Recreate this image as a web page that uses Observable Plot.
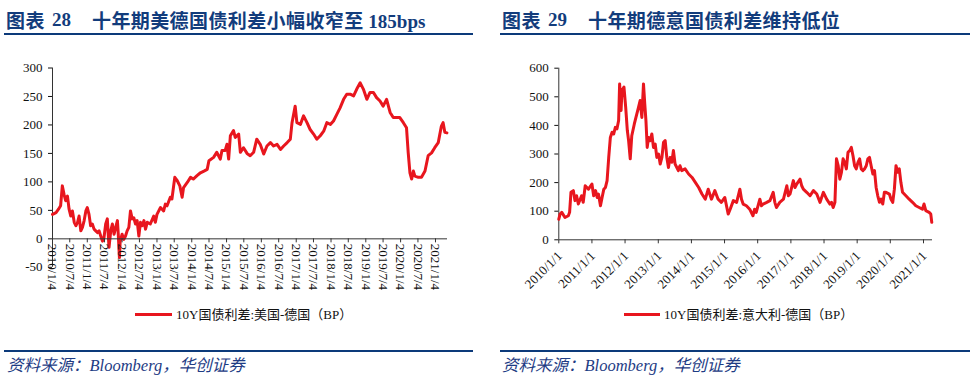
<!DOCTYPE html>
<html>
<head>
<meta charset="utf-8">
<script src="https://cdn.jsdelivr.net/npm/d3@7"></script>
<script src="https://cdn.jsdelivr.net/npm/@observablehq/plot@0.6"></script>
<style>
  html, body { margin: 0; padding: 0; background: #fff; }
  body { width: 976px; height: 392px; position: relative; overflow: hidden; }
  .abs { position: absolute; white-space: nowrap; }
  .title { font-family: "Liberation Serif", "Noto Sans CJK SC", serif; font-weight: 700; font-size: 19px; line-height: 19px; color: #123c7c; }
  .title .cjk { font-family: "Noto Sans CJK SC", sans-serif; letter-spacing: 0.4px; }
  .rule { position: absolute; height: 2px; background: #0c3a7a; }
  .legend { font-family: "Liberation Serif", "Noto Sans CJK SC", serif; font-size: 13px; line-height: 13px; color: #111; }
  .swatch { position: absolute; height: 3px; background: #e8161e; }
  .source { font-family: "Liberation Serif", "Noto Sans CJK SC", serif; font-style: italic; font-size: 16.5px; line-height: 16px; color: #1e3c84; }
  .chart { position: absolute; top: 50px; }
</style>
</head>
<body>
<div class="abs title cjk" style="left:6px; top:10px;"><span class="cjk">图表</span></div>
<div class="abs title" style="left:52px; top:10px;">28</div>
<div class="abs title" style="left:92px; top:10px;"><span class="cjk">十年期美德国债利差小幅收窄至</span> 185bps</div>
<div class="rule" style="left:4px; width:469px; top:33px;"></div>

<div class="abs title cjk" style="left:502px; top:10px;"><span class="cjk">图表</span></div>
<div class="abs title" style="left:548px; top:10px;">29</div>
<div class="abs title" style="left:588px; top:10px;"><span class="cjk">十年期德意国债利差维持低位</span></div>
<div class="rule" style="left:500px; width:470px; top:33px;"></div>

<div id="chartUS" class="chart" style="left:0px;"></div>
<div id="chartIT" class="chart" style="left:488px;"></div>

<div class="swatch" style="left:135px; width:37px; top:313px;"></div>
<div class="abs legend" style="left:176px; top:308px;">10Y国债利差:美国-德国（BP）</div>
<div class="swatch" style="left:624px; width:36px; top:313px;"></div>
<div class="abs legend" style="left:664px; top:308px;">10Y国债利差:意大利-德国（BP）</div>

<div class="rule" style="left:4px; width:469px; top:350px;"></div>
<div class="rule" style="left:500px; width:470px; top:350px;"></div>
<div class="abs source" style="left:7px; top:358px;">资料来源：Bloomberg，华创证券</div>
<div class="abs source" style="left:502px; top:358px;">资料来源：Bloomberg，华创证券</div>

<script>
// ---------- Data: US - Germany 10Y spread (bp) ----------
const usDates = ["2010-01-04","2010-02-10","2010-03-08","2010-03-30","2010-04-17","2010-05-05","2010-05-22","2010-06-10","2010-06-27","2010-07-15","2010-08-01","2010-08-20","2010-09-06","2010-09-24","2010-10-10","2010-10-28","2010-11-14","2010-12-02","2010-12-20",
"2011-01-04","2011-01-22","2011-02-08","2011-02-26","2011-03-16","2011-04-03","2011-04-20","2011-05-08","2011-05-25","2011-06-12","2011-06-28","2011-07-16","2011-08-02","2011-08-20","2011-09-07","2011-09-24","2011-10-12","2011-10-29","2011-11-16","2011-11-25","2011-12-07","2011-12-15",
"2012-01-04","2012-01-22","2012-02-09","2012-02-26","2012-03-15","2012-04-01","2012-04-19","2012-05-06","2012-05-24","2012-06-10","2012-06-28","2012-07-15","2012-08-02","2012-08-20","2012-09-06","2012-09-24","2012-10-26","2012-12-01","2012-12-18",
"2013-01-04","2013-02-10","2013-03-15","2013-04-02","2013-04-20","2013-05-24","2013-06-10","2013-06-28","2013-07-10","2013-08-05","2013-09-01","2013-09-25","2013-10-10","2013-11-18","2013-12-22",
"2014-01-20","2014-02-28","2014-04-05","2014-05-12","2014-06-15","2014-07-03","2014-08-21","2014-09-23","2014-10-30","2014-11-17","2014-12-20",
"2015-01-08","2015-01-26","2015-02-13","2015-03-18","2015-04-05","2015-04-23","2015-05-11","2015-05-29","2015-07-01","2015-08-07","2015-09-09","2015-10-15","2015-11-17","2015-12-23",
"2016-01-29","2016-03-03","2016-04-08","2016-05-11","2016-06-17","2016-07-23","2016-08-25","2016-10-01","2016-11-03","2016-11-21","2016-12-24",
"2017-01-11","2017-02-17","2017-03-22","2017-04-27","2017-05-30","2017-07-05","2017-08-08","2017-09-13","2017-10-19","2017-11-21","2017-12-28",
"2018-01-30","2018-03-07","2018-04-09","2018-05-16","2018-06-18","2018-07-24","2018-08-29","2018-10-01","2018-11-06","2018-12-09",
"2019-01-15","2019-02-17","2019-03-25","2019-04-27","2019-06-02","2019-07-05","2019-08-10","2019-09-16","2019-10-19","2019-11-24","2019-12-27",
"2020-02-02","2020-03-06","2020-03-24","2020-04-11","2020-04-29","2020-05-17","2020-06-02","2020-07-08","2020-08-10","2020-09-16","2020-10-19","2020-11-24","2020-12-27",
"2021-02-02","2021-03-07","2021-03-25","2021-04-12","2021-05-04"];
const usValues = [43,46,52,58,93,78,67,75,52,40,49,29,23,29,40,14,20,32,49,
55,43,23,26,17,14,11,14,5,-4,2,26,35,-15,14,26,8,20,32,8,-33,-4,
8,-1,5,14,20,49,35,37,26,32,5,29,23,32,17,29,26,40,29,
43,55,49,61,58,73,70,93,108,102,93,73,90,99,108,
105,111,116,119,122,137,143,152,140,155,155,
166,140,181,190,178,181,184,152,160,150,146,152,175,166,
149,163,169,163,166,157,163,169,175,204,233,
204,201,216,204,192,184,175,181,189,204,201,
207,219,230,245,254,254,251,263,274,263,
245,257,257,248,242,233,245,222,213,213,213,
204,195,151,116,105,119,110,108,108,119,146,151,160,
169,198,204,187,186];

// ---------- Data: Italy - Germany 10Y spread (bp) ----------
const itDates = ["2010-01-01","2010-01-15","2010-02-03","2010-03-10","2010-04-16","2010-04-30","2010-05-15","2010-06-10","2010-06-28","2010-07-16","2010-08-04","2010-09-09","2010-09-27","2010-10-19","2010-11-24",
"2011-01-01","2011-01-20","2011-02-10","2011-02-28","2011-03-14","2011-04-05","2011-04-23","2011-05-12","2011-05-30","2011-06-17","2011-07-05","2011-07-23","2011-08-11","2011-08-29","2011-09-16","2011-10-04","2011-10-22","2011-11-02","2011-11-18","2011-11-28","2011-12-20",
"2012-01-08","2012-01-26","2012-02-09","2012-02-27","2012-03-15","2012-04-12","2012-04-30","2012-05-28","2012-06-15","2012-07-04","2012-07-22","2012-08-05","2012-08-18","2012-09-01","2012-09-16","2012-10-04","2012-10-22","2012-11-09","2012-11-28","2012-12-16",
"2013-01-04","2013-01-22","2013-02-10","2013-02-28","2013-03-18","2013-04-05","2013-04-23","2013-05-11","2013-05-30","2013-06-17","2013-07-05","2013-08-10","2013-08-28","2013-09-16","2013-10-23","2013-12-01",
"2014-01-08","2014-02-13","2014-03-22","2014-04-27","2014-06-03","2014-07-05","2014-08-10","2014-09-16","2014-10-22","2014-11-27",
"2015-01-04","2015-02-10","2015-03-04","2015-04-08","2015-05-14","2015-06-19","2015-07-07","2015-07-25","2015-08-30","2015-10-05","2015-11-10","2015-11-28","2015-12-16",
"2016-01-25","2016-02-12","2016-03-01","2016-04-10","2016-05-15","2016-06-20","2016-07-08","2016-07-26","2016-08-31","2016-10-11","2016-11-17","2016-12-04","2016-12-22",
"2017-01-28","2017-02-15","2017-03-06","2017-04-12","2017-04-30","2017-05-18","2017-06-24","2017-07-31","2017-09-06","2017-10-13","2017-11-18","2017-12-25",
"2018-01-30","2018-03-07","2018-03-25","2018-04-12","2018-05-01","2018-05-18","2018-06-06","2018-06-24","2018-07-12","2018-07-30","2018-08-17","2018-09-04","2018-09-22","2018-10-11","2018-10-29","2018-11-16","2018-12-04","2018-12-22",
"2019-01-10","2019-01-28","2019-02-15","2019-03-06","2019-03-24","2019-04-11","2019-04-29","2019-05-17","2019-06-04","2019-06-23","2019-07-11","2019-07-29","2019-08-16","2019-09-04","2019-09-22","2019-10-10","2019-10-28","2019-11-15","2019-12-22",
"2020-01-09","2020-01-28","2020-02-15","2020-03-04","2020-03-22","2020-04-09","2020-04-27","2020-05-15","2020-06-21","2020-07-27","2020-09-02","2020-10-08","2020-11-14","2020-12-20",
"2021-01-07","2021-01-26","2021-03-04","2021-03-22","2021-04-02"];
const itValues = [72,90,96,78,84,96,166,172,137,154,125,154,131,189,177,
195,154,172,148,160,119,148,177,183,207,288,358,376,370,393,388,417,545,452,522,534,
463,382,347,283,364,405,428,463,487,428,545,475,417,323,358,347,370,323,335,288,
300,265,288,341,347,288,253,288,271,312,265,242,259,242,248,230,
218,201,183,160,142,177,142,172,142,131,
148,90,107,137,131,177,142,125,119,107,84,107,96,
142,119,125,131,137,166,131,113,131,142,189,154,160,
207,183,195,212,189,177,166,154,172,160,131,166,
142,125,131,113,131,283,259,212,236,283,271,248,306,312,323,294,259,248,
271,283,248,242,248,259,283,288,259,230,242,183,154,131,142,125,166,166,160,
142,131,177,259,236,248,200,166,154,142,131,119,113,107,
125,102,96,90,61];

// ---------- Axis ticks ----------
const usXTickLabels = ["2010/1/4","2010/7/4","2011/1/4","2011/7/4","2012/1/4","2012/7/4","2013/1/4","2013/7/4","2014/1/4","2014/7/4","2015/1/4","2015/7/4","2016/1/4","2016/7/4","2017/1/4","2017/7/4","2018/1/4","2018/7/4","2019/1/4","2019/7/4","2020/1/4","2020/7/4","2021/1/4"];
const itXTickLabels = ["2010/1/1","2011/1/1","2012/1/1","2013/1/1","2014/1/1","2015/1/1","2016/1/1","2017/1/1","2018/1/1","2019/1/1","2020/1/1","2021/1/1"];
const usYTicks = [-50, 0, 50, 100, 150, 200, 250, 300];
const itYTicks = [0, 100, 200, 300, 400, 500, 600];
const usXDomain = ["2010-01-04", "2021-05-10"];
const itXDomain = ["2010-01-01", "2021-04-10"];

// ---------- Build ----------
const parseISO = s => new Date(s + "T00:00:00Z");
const parseLabel = s => { const [y, m, d] = s.split("/").map(Number); return new Date(Date.UTC(y, m - 1, d)); };
const usData = usDates.map((d, i) => ({date: parseISO(d), value: usValues[i]}));
const itData = itDates.map((d, i) => ({date: parseISO(d), value: itValues[i]}));
const usTicks = usXTickLabels.map(l => ({date: parseLabel(l), label: l}));
const itTicks = itXTickLabels.map(l => ({date: parseLabel(l), label: l}));

const RED = "#e8161e";
const AXIS = "#333";
const baseStyle = {fontFamily: "'Liberation Serif', 'Times New Roman', serif", fontSize: "13px", color: "#111", background: "transparent", overflow: "visible"};

const us = Plot.plot({
  width: 480, height: 250,
  marginLeft: 52, marginRight: 33, marginTop: 17.5, marginBottom: 33.2,
  style: baseStyle,
  x: {type: "utc", domain: usXDomain.map(parseISO), axis: null},
  y: {domain: [-50, 300], ticks: usYTicks, tickSize: 4, tickPadding: 6, label: null, tickFormat: d => String(d)},
  marks: [
    Plot.ruleX([parseISO(usXDomain[0])], {stroke: AXIS, strokeWidth: 1}),
    Plot.line(usData, {x: "date", y: "value", stroke: RED, strokeWidth: 3, strokeLinejoin: "round"}),
    Plot.ruleY([0], {stroke: AXIS, strokeWidth: 1}),
    Plot.ruleX(usTicks, {x: "date", y1: 0, y2: 0, insetBottom: -4, stroke: AXIS}),
    Plot.text(usTicks, {x: "date", y: 0, text: "label", rotate: 90, textAnchor: "start", lineAnchor: "middle", dy: 5, fontSize: 13, fill: "#111"})
  ]
});
document.getElementById("chartUS").appendChild(us);

const it = Plot.plot({
  width: 480, height: 250,
  marginLeft: 70.3, marginRight: 36, marginTop: 17.7, marginBottom: 60.7,
  style: baseStyle,
  x: {type: "utc", domain: itXDomain.map(parseISO), axis: null},
  y: {domain: [0, 600], ticks: itYTicks, tickSize: 4, tickPadding: 6, label: null, tickFormat: d => String(d)},
  marks: [
    Plot.ruleX([parseISO(itXDomain[0])], {stroke: AXIS, strokeWidth: 1}),
    Plot.line(itData, {x: "date", y: "value", stroke: RED, strokeWidth: 3, strokeLinejoin: "round"}),
    Plot.ruleY([0], {stroke: AXIS, strokeWidth: 1}),
    Plot.ruleX(itTicks, {x: "date", y1: 0, y2: 0, insetBottom: -4, stroke: AXIS}),
    Plot.text(itTicks, {x: "date", y: 0, text: "label", rotate: -45, textAnchor: "end", lineAnchor: "middle", dx: 1, dy: 14, fontSize: 13, fill: "#111"})
  ]
});
document.getElementById("chartIT").appendChild(it);
</script>
</body>
</html>
